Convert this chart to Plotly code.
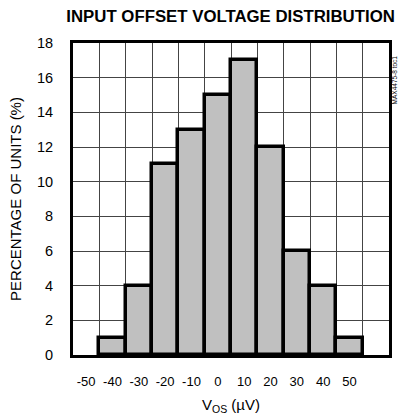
import plotly.graph_objects as go

# Data
bin_centers = [-40, -30, -20, -10, 0, 10, 20, 30, 40, 50]
percent_units = [1, 4, 11, 13, 15, 17, 12, 6, 4, 1]
x_tick_vals = [-50, -40, -30, -20, -10, 0, 10, 20, 30, 40, 50]
x_tick_text = [str(v) for v in x_tick_vals]
y_tick_vals = [0, 2, 4, 6, 8, 10, 12, 14, 16, 18]

FONT = "Liberation Sans, Arial, sans-serif"

fig = go.Figure()
fig.add_trace(go.Bar(
    x=bin_centers, y=percent_units, width=10,
    marker=dict(color="#c0c0c0", line=dict(color="black", width=3.5)),
    hoverinfo="skip",
))

fig.update_layout(
    width=401, height=420,
    margin=dict(l=73, r=9, t=43, b=60),
    paper_bgcolor="white", plot_bgcolor="white",
    showlegend=False, bargap=0,
    font=dict(family=FONT, size=14, color="black"),
    title=dict(text="<b>INPUT OFFSET VOLTAGE DISTRIBUTION</b>",
               font=dict(family=FONT, size=16.8, color="black"),
               x=0.575, xanchor="center", y=1 - 16 / 420, yanchor="middle"),
)

fig.update_xaxes(
    range=[-55, 65], tickmode="array", tickvals=x_tick_vals, ticktext=x_tick_text,
    showgrid=False, zeroline=False, ticks="", ticklabelstandoff=12,
    showline=True, linecolor="black", linewidth=3, mirror=True,
    tickfont=dict(size=13),
    minor=dict(tickmode="linear", tick0=-45, dtick=10, showgrid=True,
               gridcolor="#444444", gridwidth=1, ticks=""),
    title=dict(text="V<sub>OS</sub> (µV)", font=dict(size=15), standoff=12),
)
fig.update_yaxes(
    range=[0, 18], tickmode="array", tickvals=y_tick_vals,
    showgrid=True, gridcolor="#444444", gridwidth=1, zeroline=False, ticks="",
    ticklabelstandoff=14,
    showline=True, linecolor="black", linewidth=3, mirror=True,
    tickfont=dict(size=14.5),
    title=dict(text="PERCENTAGE OF UNITS (%)", font=dict(size=15), standoff=12),
)

fig.add_annotation(text="MAX4475-8 toc1", textangle=-90, xref="paper", yref="paper",
                   x=1.0, y=0.88, xanchor="center", yanchor="middle", showarrow=False,
                   xshift=5, font=dict(family=FONT, size=6.5, color="black"))

fig.write_html("out.html", config={"displayModeBar": False},
               post_script="document.body.style.margin='0';")
